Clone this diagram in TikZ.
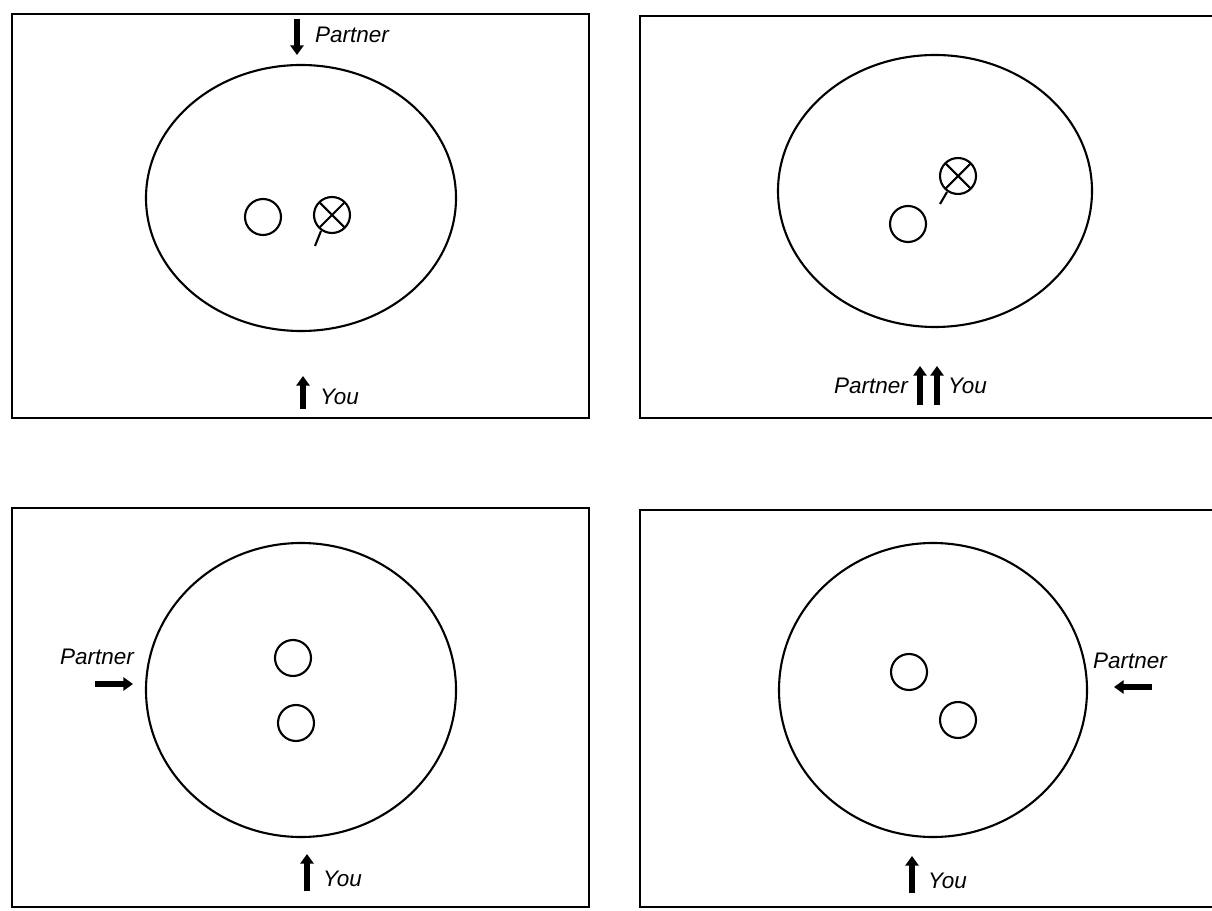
\documentclass[tikz,border=0pt]{standalone}
\usepackage{fontspec}
\setsansfont{Liberation Sans}
\usetikzlibrary{arrows.meta}

\tikzset{
  panel/.style={line width=1.5pt},
  field/.style={line width=1.2pt},
  ball/.style={line width=1.2pt},
  mover/.style={line width=3.4pt, -{Triangle[length=5.5pt,width=7.5pt]}},
  tag/.style={font=\sffamily\itshape\fontsize{12.8}{15}\selectfont, inner sep=1pt},
}

\begin{document}
\begin{tikzpicture}[x=0.02cm,y=-0.02cm]
        \useasboundingbox (0,0) rectangle (1212,911);

        % top left
        \draw[panel] (12,14) rectangle (589,418);
        \draw[field] (301,198) ellipse [x radius=155, y radius=133];
        \draw[ball] (263,217) circle [radius=18];
        \draw[ball] (332,215) circle [radius=18];
        \draw[ball] (332,215) +(-13,-13) -- +(13,13) +(13,-13) -- +(-13,13);
        \draw[ball] (321,231) -- (315,246);
        \coordinate (tlp1) at (297,19);
        \coordinate (tlp2) at (297,55);
        \draw[mover] (tlp1) -- (tlp2);
        \node[tag, anchor=west] (tlpartner) at (313,35) {Partner};
        \coordinate (tly1) at (303,409);
        \coordinate (tly2) at (303,376);
        \draw[mover] (tly1) -- (tly2);
        \node[tag, anchor=west] (tlyou) at (318,397) {You};

        % top right
        \draw[panel] (1212,16) -- (640,16) -- (640,418) -- (1212,418);
        \draw[field] (935,191) ellipse [x radius=157, y radius=136];
        \draw[ball] (958,176) circle [radius=18];
        \draw[ball] (958,176) +(-13,-13) -- +(13,13) +(13,-13) -- +(-13,13);
        \draw[ball] (947,192) -- (940,204);
        \draw[ball] (908,224) circle [radius=18];
        \coordinate (trp1) at (920,405);
        \coordinate (trp2) at (920,366);
        \draw[mover] (trp1) -- (trp2);
        \coordinate (try1) at (937,405);
        \coordinate (try2) at (937,366);
        \draw[mover] (try1) -- (try2);
        \node[tag, anchor=east] (trpartner) at (910,386) {Partner};
        \node[tag, anchor=west] (tryou) at (946,386) {You};

        % bottom left
        \draw[panel] (12,508) rectangle (589,907);
        \draw[field] (301,690) ellipse [x radius=155, y radius=147];
        \draw[ball] (293,658) circle [radius=18];
        \draw[ball] (296,723) circle [radius=18];
        \node[tag] (blpartner) at (97,657) {Partner};
        \coordinate (blp1) at (95,684);
        \coordinate (blp2) at (133,684);
        \draw[mover] (blp1) -- (blp2);
        \coordinate (bly1) at (307,891);
        \coordinate (bly2) at (307,854);
        \draw[mover] (bly1) -- (bly2);
        \node[tag, anchor=west] (blyou) at (321,879) {You};

        % bottom right
        \draw[panel] (1212,510) -- (640,510) -- (640,907) -- (1212,907);
        \draw[field] (933,690) ellipse [x radius=154, y radius=147];
        \draw[ball] (909,672) circle [radius=18];
        \draw[ball] (958,720) circle [radius=18];
        \node[tag] (brpartner) at (1130,661) {Partner};
        \coordinate (brp1) at (1152,687);
        \coordinate (brp2) at (1114,687);
        \draw[mover] (brp1) -- (brp2);
        \coordinate (bry1) at (912,893);
        \coordinate (bry2) at (912,856);
        \draw[mover] (bry1) -- (bry2);
        \node[tag, anchor=west] (bryou) at (926,881) {You};
\end{tikzpicture}
\end{document}
